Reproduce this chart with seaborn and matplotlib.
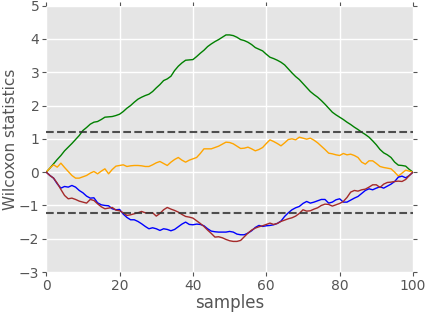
import numpy as np
import pandas as pd
import matplotlib
matplotlib.use("Agg")
import matplotlib.pyplot as plt
import seaborn as sns

samples = list(range(101))

green = [0, 0.12, 0.25, 0.38, 0.5, 0.64, 0.75, 0.86, 0.98, 1.1,
         1.25, 1.34, 1.44, 1.5, 1.52, 1.58, 1.65, 1.66, 1.67, 1.7,
         1.74, 1.82, 1.92, 2.0, 2.1, 2.19, 2.25, 2.3, 2.34, 2.42,
         2.53, 2.63, 2.75, 2.8, 2.88, 3.05, 3.18, 3.28, 3.36, 3.37,
         3.38, 3.47, 3.57, 3.66, 3.77, 3.85, 3.92, 3.98, 4.05, 4.12,
         4.12, 4.1, 4.05, 3.98, 3.95, 3.9, 3.83, 3.74, 3.69, 3.64,
         3.54, 3.45, 3.41, 3.36, 3.3, 3.22, 3.1, 2.98, 2.87, 2.78,
         2.66, 2.54, 2.42, 2.33, 2.25, 2.15, 2.04, 1.92, 1.8, 1.72,
         1.65, 1.58, 1.5, 1.43, 1.35, 1.28, 1.2, 1.13, 1.05, 0.94,
         0.82, 0.68, 0.58, 0.52, 0.44, 0.3, 0.21, 0.2, 0.18, 0.08, 0]

orange = [0, 0.12, 0.22, 0.15, 0.27, 0.14, 0.02, -0.1, -0.18, -0.18,
          -0.14, -0.1, -0.03, 0.02, -0.05, 0.03, 0.1, -0.05, 0.08, 0.18,
          0.2, 0.22, 0.17, 0.19, 0.2, 0.2, 0.19, 0.17, 0.17, 0.22,
          0.28, 0.32, 0.26, 0.2, 0.3, 0.38, 0.44, 0.36, 0.3, 0.36,
          0.4, 0.44, 0.56, 0.7, 0.7, 0.7, 0.74, 0.78, 0.84, 0.9,
          0.89, 0.85, 0.78, 0.71, 0.72, 0.75, 0.7, 0.64, 0.68, 0.74,
          0.86, 0.97, 0.92, 0.86, 0.79, 0.88, 0.98, 1.0, 0.97, 1.05,
          1.02, 0.99, 1.02, 0.96, 0.88, 0.78, 0.68, 0.57, 0.55, 0.52,
          0.5, 0.56, 0.52, 0.54, 0.5, 0.44, 0.3, 0.24, 0.34, 0.34,
          0.26, 0.17, 0.14, 0.12, 0.1, 0.0, -0.12, -0.03, 0.06, 0.03, 0]

blue = [0, -0.1, -0.18, -0.35, -0.48, -0.43, -0.45, -0.4, -0.45, -0.55,
        -0.62, -0.72, -0.78, -0.77, -0.92, -0.98, -1.0, -1.01, -1.1, -1.13,
        -1.12, -1.26, -1.36, -1.43, -1.43, -1.48, -1.55, -1.63, -1.7, -1.67,
        -1.7, -1.75, -1.7, -1.72, -1.76, -1.72, -1.64, -1.56, -1.5, -1.57,
        -1.58, -1.56, -1.57, -1.61, -1.7, -1.77, -1.79, -1.8, -1.8, -1.8,
        -1.78, -1.8, -1.86, -1.88, -1.88, -1.83, -1.76, -1.66, -1.6, -1.63,
        -1.61, -1.6, -1.58, -1.54, -1.47, -1.33, -1.22, -1.13, -1.07, -1.03,
        -0.94, -0.88, -0.93, -0.9, -0.86, -0.82, -0.82, -0.93, -0.9, -0.83,
        -0.8, -0.9, -0.9, -0.84, -0.78, -0.73, -0.64, -0.55, -0.5, -0.53,
        -0.48, -0.44, -0.48, -0.42, -0.36, -0.28, -0.15, -0.12, -0.17, -0.1, 0]

red = [0, -0.1, -0.18, -0.33, -0.52, -0.7, -0.8, -0.78, -0.82, -0.87,
       -0.9, -0.93, -0.82, -0.85, -0.95, -1.04, -1.1, -1.08, -1.06, -1.14,
       -1.16, -1.22, -1.3, -1.28, -1.25, -1.22, -1.18, -1.22, -1.22, -1.22,
       -1.32, -1.24, -1.13, -1.06, -1.11, -1.15, -1.2, -1.27, -1.33, -1.35,
       -1.38, -1.46, -1.54, -1.63, -1.74, -1.84, -1.95, -1.94, -1.97, -2.02,
       -2.06, -2.08, -2.08, -2.05, -1.94, -1.83, -1.74, -1.68, -1.64, -1.61,
       -1.57, -1.53, -1.57, -1.54, -1.48, -1.44, -1.4, -1.37, -1.32, -1.24,
       -1.13, -1.17, -1.16, -1.11, -1.07, -1.0, -0.96, -0.97, -1.02, -0.98,
       -0.94, -0.88, -0.76, -0.6, -0.55, -0.57, -0.53, -0.51, -0.45, -0.38,
       -0.38, -0.46, -0.36, -0.31, -0.3, -0.28, -0.27, -0.28, -0.22, -0.1, 0]

threshold = 1.22

series_names = ["green", "orange", "blue", "red"]
series_colors = {"green": "green", "orange": "orange", "blue": "blue", "red": "#a52a2a"}

df = pd.DataFrame({
    "samples": samples * 4,
    "value": green + orange + blue + red,
    "series": sum([[n] * len(samples) for n in series_names], []),
})

sns.set_style("darkgrid", {"axes.facecolor": "#E5E5E5", "grid.color": "white"})
plt.rcParams["font.family"] = ["DejaVu Sans"]

fig = plt.figure(figsize=(4.28, 3.12), dpi=100)
ax = fig.add_axes([0.108, 0.128, 0.857, 0.854])

sns.lineplot(data=df, x="samples", y="value", hue="series", hue_order=series_names,
             palette=series_colors, linewidth=1.0, legend=False, ax=ax, estimator=None)

ax.axhline(threshold, color="#333333", ls="--", lw=1.5, alpha=0.85)
ax.axhline(-threshold, color="#333333", ls="--", lw=1.5, alpha=0.85)

ax.set_xlim(0, 100)
ax.set_ylim(-3, 5)
ax.set_xticks([0, 20, 40, 60, 80, 100])
ax.set_yticks([-3, -2, -1, 0, 1, 2, 3, 4, 5])
ax.grid(True, color="white", linewidth=1.0)
for s in ax.spines.values():
    s.set_visible(False)
ax.tick_params(axis="both", which="both", direction="out", length=3, width=0.8,
               color="#555555", labelcolor="#555555", labelsize=10,
               top=True, right=True, bottom=True, left=True, pad=2)
ax.set_xlabel("samples", fontsize=12, color="#555555", labelpad=1)
ax.set_ylabel("Wilcoxon statistics", fontsize=11, color="#555555", labelpad=0)
ax.yaxis.set_label_coords(-0.076, 0.5)

fig.savefig("out.png", dpi=100)
